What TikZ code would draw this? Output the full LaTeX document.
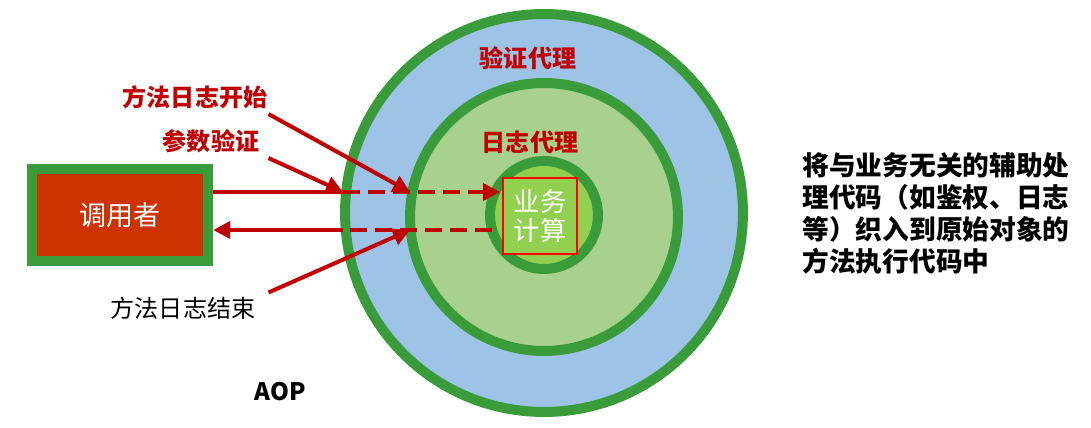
\documentclass[tikz,border=0pt]{standalone}
\usepackage{fontspec}
\setmainfont{Noto Sans CJK SC}
\usetikzlibrary{positioning,arrows.meta}
\definecolor{ringgreen}{HTML}{3A9B3A}
\definecolor{proxyblue}{HTML}{9DC3E6}
\definecolor{logfill}{HTML}{A9D18E}
\definecolor{corefill}{HTML}{92D050}
\definecolor{callerred}{HTML}{CC3300}
\definecolor{darkred}{HTML}{C00000}

\begin{document}
\begin{tikzpicture}[x=0.02cm, y=-0.02cm,
    ring/.style={circle, draw=ringgreen, line width=0.2cm, inner sep=0pt},
    redline/.style={draw=darkred, line width=0.08cm},
    dashline/.style={redline, dash pattern=on 0.34cm off 0.16cm},
    lbl/.style={inner sep=0pt, font=\fontsize{13.7}{16}\selectfont},
    head/.style={-{Triangle[length=0.34cm, width=0.34cm]}}]
  \useasboundingbox (0,0) rectangle (1091,428);

  % nested proxies
  \node[ring, fill=proxyblue, minimum size=7.96cm] (outer) at (544,213) {};
  \node[ring, fill=logfill, minimum size=5.36cm] (middle) at (544,217) {};
  \node[ring, fill=corefill, minimum size=2.16cm] (inner) at (544,215) {};
  \node[draw=red, line width=0.04cm, fill=corefill, minimum width=1.48cm,
        minimum height=1.52cm, inner sep=0pt, align=center, text=white,
        font=\fontsize{15}{16.5}\selectfont] (core) at (540,216) {业务\\计算};

  \node[lbl, font=\fontsize{13.7}{16}\selectfont\bfseries, text=darkred] (authp) at (528,58) {验证代理};
  \node[lbl, font=\fontsize{13.7}{16}\selectfont\bfseries, text=darkred] (logp) at (530,142) {日志代理};

  % caller
  \node[draw=ringgreen, fill=callerred, line width=0.2cm, minimum width=3.53cm,
        minimum height=1.84cm, text=white, font=\fontsize{15.4}{17}\selectfont] (caller) at (120,215) {调用者};

  \coordinate (inOuter) at (343,192);
  \coordinate (inLog) at (410,192);
  \coordinate (outOuter) at (343,230);
  \coordinate (outLog) at (410,230);

  \draw[redline] (caller.east |- inOuter) -- (inOuter);
  \draw[dashline, head] (inOuter) -- ([xshift=-0.04cm]core.west |- inOuter);
  \draw[dashline] ([xshift=-0.2cm]core.west |- outOuter) -- (outOuter);
  \draw[redline, head] (outOuter) -- (caller.east |- outOuter);

  % advice labels
  \node[lbl, font=\fontsize{13.7}{16}\selectfont\bfseries, text=darkred] (logstart) at (195,97) {方法日志开始};
  \node[lbl, font=\fontsize{13.7}{16}\selectfont\bfseries, text=darkred] (paramchk) at (211,141) {参数验证};
  \node[lbl] (logend) at (183,308) {方法日志结束};

  \draw[redline, head] ([shift={(0.02cm,-0.1cm)}]logstart.south east) -- (inLog);
  \draw[redline, head] ([shift={(0.18cm,-0.1cm)}]paramchk.south east) -- (inOuter);
  \draw[redline, head] ([shift={(0.26cm,0.08cm)}]logend.north east) -- (outLog);

  \node[lbl, font=\fontsize{13.7}{16}\selectfont\bfseries] (aop) at (280,392) {AOP};

  \node[lbl, align=left, font=\fontsize{15.2}{18.2}\selectfont\bfseries] (note) at (936,213)
    {将与业务无关的辅助处\\理代码（如鉴权、日志\\等）织入到原始对象的\\方法执行代码中};
\end{tikzpicture}
\end{document}
